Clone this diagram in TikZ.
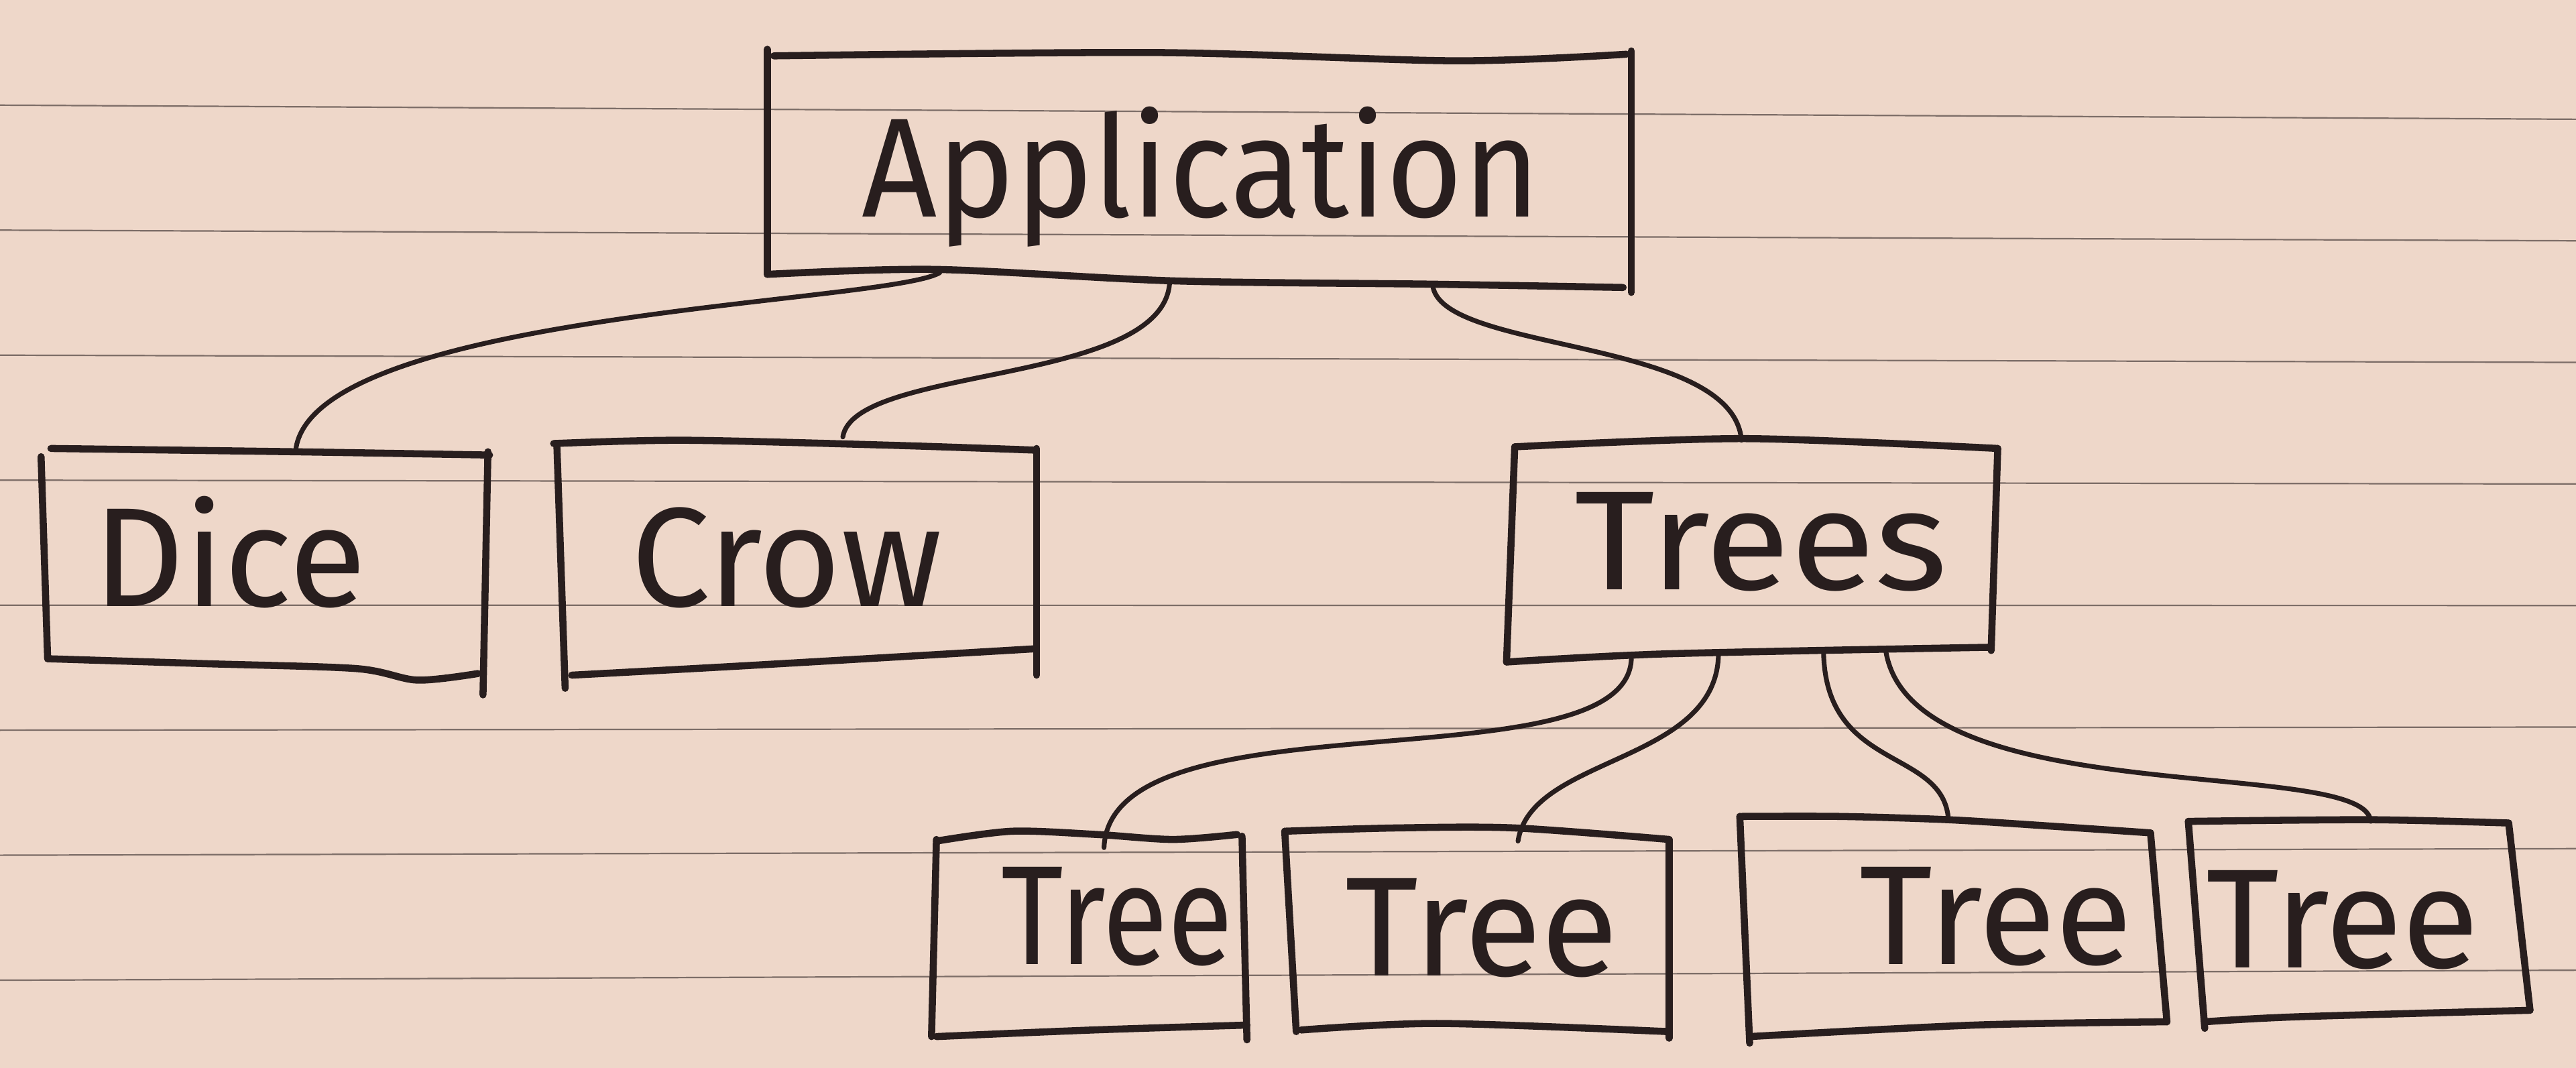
\documentclass[tikz,border=0pt]{standalone}
\usepackage{fontspec}
\usetikzlibrary{calc}
\newfontfamily\hand{Fira Sans}
\definecolor{paper}{RGB}{238,215,201}
\definecolor{rulec}{RGB}{125,110,104}
\definecolor{ink}{RGB}{40,30,30}
\newcommand{\hs}[2]{\scalebox{#1}[1]{#2}}
\begin{document}
\begin{tikzpicture}[x=1pt,y=-1pt,
  rulestyle/.style={draw=rulec,line width=0.9pt},
  edge/.style={draw=ink,line width=4.3pt,line cap=round,line join=round},
  conn/.style={draw=ink,line width=2.9pt,line cap=round},
  boxnode/.style={draw=none,inner sep=0pt,outer sep=0pt,rectangle},
  lbl/.style={text=ink,inner sep=0pt,font=\hand\fontsize{86}{86}\selectfont,anchor=base}]
\useasboundingbox (0,0) rectangle (1568,650);
\fill[paper] (0,0) rectangle (1568,650);
% ruled paper
\foreach \yl/\yr in {64/72.6,140.1/146.6,216.2/220.6,292.3/294.6,368.4/368.6,444.5/442.6,520.6/516.6,596.7/590.6}
  \draw[rulestyle] (0,\yl) -- (1568,\yr);

% invisible box nodes (for anchors)
\node[boxnode,minimum width=526pt,minimum height=142pt] (app) at (730,103) {};
\node[boxnode,minimum width=271pt,minimum height=137pt] (dice) at (162.5,343.5) {};
\node[boxnode,minimum width=291pt,minimum height=139pt] (crow) at (485.5,340.5) {};
\node[boxnode,minimum width=295pt,minimum height=130pt] (trees) at (1066.5,335) {};
\node[boxnode,minimum width=188pt,minimum height=122pt] (t1) at (662,569) {};
\node[boxnode,minimum width=231pt,minimum height=122pt] (t2) at (900.5,567) {};
\node[boxnode,minimum width=254pt,minimum height=128pt] (t3) at (1187,564) {};
\node[boxnode,minimum width=198pt,minimum height=120pt] (t4) at (1434,560) {};

% hand drawn outlines
% Application
\draw[edge] (467,30) -- (467,167);
\draw[edge] plot[smooth] coordinates {(471,34) (704,32) (886,37) (990,33)};
\draw[edge] (993,31) -- (993,178);
\draw[edge] plot[smooth] coordinates {(467,167) (569,164) (715,171) (872,173) (988,175)};
% Dice
\draw[edge] (25,278) -- (29,401);
\draw[edge] plot[smooth] coordinates {(31,273) (179,275) (298,277)};
\draw[edge] (297,275) -- (294,423);
\draw[edge] plot[smooth] coordinates {(29,401) (125,404) (217,407) (254,414) (291,410)};
% Crow
\draw[edge] (339,272) -- (344,419);
\draw[edge] plot[smooth] coordinates {(337,270) (416,268) (541,271) (630,274)};
\draw[edge] (631,273) -- (631,411);
\draw[edge] plot[smooth] coordinates {(348,411) (458,405) (629,395)};
% Trees
\draw[edge] (922,272) -- (917,403);
\draw[edge] plot[smooth] coordinates {(922,272) (1062,267) (1216,273)};
\draw[edge] (1216,273) -- (1212,396);
\draw[edge] plot[smooth] coordinates {(917,403) (1015,398) (1212,394)};
% Tree 1
\draw[edge] (570,511) -- (567,631);
\draw[edge] plot[smooth] coordinates {(570,512) (616,506) (668,508) (714,511) (753,508)};
\draw[edge] (756,509) -- (759,633);
\draw[edge] plot[smooth] coordinates {(570,631) (665,627) (759,624)};
% Tree 2
\draw[edge] (782,506) -- (789,628);
\draw[edge] plot[smooth] coordinates {(782,506) (850,504) (922,504) (1016,511)};
\draw[edge] (1016,511) -- (1016,632);
\draw[edge] plot[smooth] coordinates {(792,627) (876,623) (1016,628)};
% Tree 3
\draw[edge] (1059,497) -- (1065,635);
\draw[edge] plot[smooth] coordinates {(1059,497) (1120,497) (1186,499) (1250,503) (1309,507)};
\draw[edge] (1309,507) -- (1319,622);
\draw[edge] plot[smooth] coordinates {(1065,631) (1202,624) (1319,622)};
% Tree 4
\draw[edge] (1332,500) -- (1342,626);
\draw[edge] plot[smooth] coordinates {(1332,500) (1443,499) (1527,501)};
\draw[edge] (1527,501) -- (1540,615);
\draw[edge] plot[smooth] coordinates {(1342,622) (1397,619) (1540,615)};

% labels
\node[lbl] (appL) at (731,132) {\hs{0.93}{Application}};
\node[lbl] (diceL) at (140,369) {Dice};
\node[lbl] (crowL) at (479,369) {Crow};
\node[lbl] (treesL) at (1072,359) {\hs{1.1}{Trees}};
\node[lbl] (t1L) at (680,587) {\hs{0.85}{Tree}};
\node[lbl] (t2L) at (902,594) {Tree};
\node[lbl] (t3L) at (1215,587) {Tree};
\node[lbl] (t4L) at (1426,589) {Tree};

% connectors
\draw[conn] ($(app.south west)+(105,-8)$) .. controls +(-32,19) and +(10,-84) .. ($(dice.north west)+(153,-1)$);
\draw[conn] ($(app.south west)+(245,-3)$) .. controls +(-2,64) and +(7,-44) .. ($(crow.north west)+(173,-5)$);
\draw[conn] ($(app.south west)+(405,-1)$) .. controls +(3,42) and +(-5,-63) .. ($(trees.north west)+(141,-2)$);
\draw[conn] ($(trees.south west)+(74,1)$) .. controls +(-3,79) and +(4,-96) .. ($(t1.north west)+(104,8)$);
\draw[conn] ($(trees.south west)+(127,-1)$) .. controls +(-2,66) and +(8,-52) .. ($(t2.north west)+(139,6)$);
\draw[conn] ($(trees.south west)+(191,-2)$) .. controls +(2,72) and +(-3,-44) .. ($(t3.north west)+(126,-1)$);
\draw[conn] ($(trees.south west)+(229,-3)$) .. controls +(17,98) and +(-3,-40) .. ($(t4.north west)+(108,0)$);
\end{tikzpicture}
\end{document}
